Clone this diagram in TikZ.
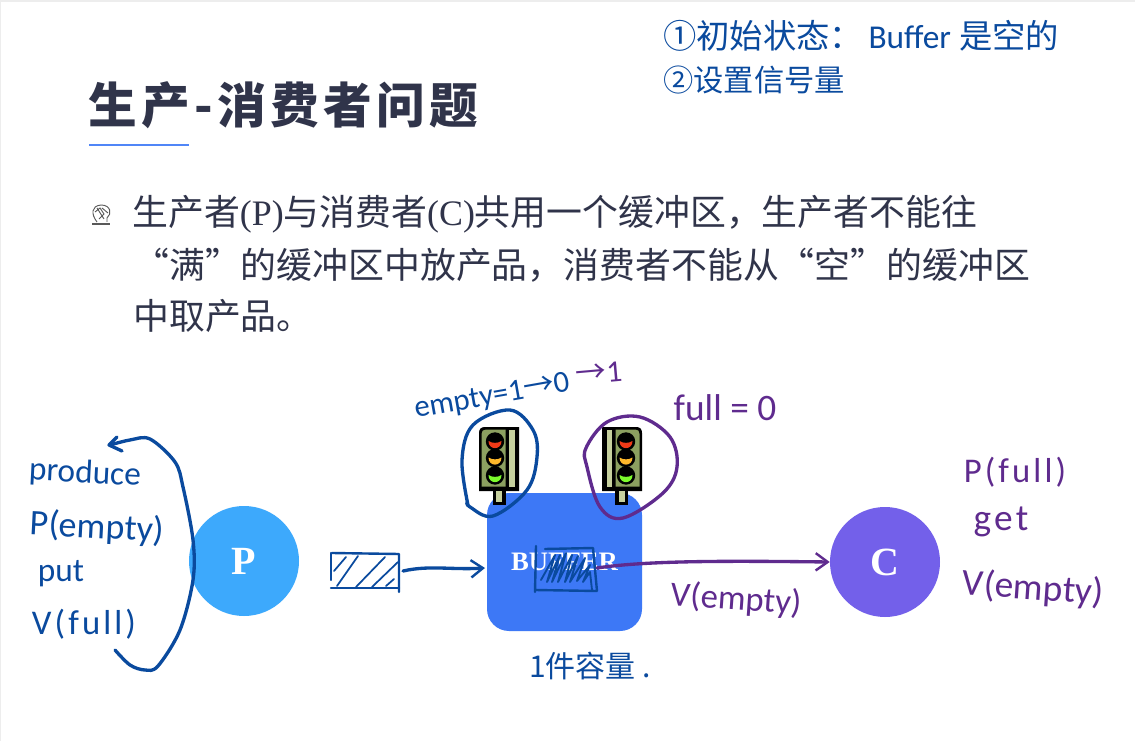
\documentclass[tikz,border=0pt]{standalone}
\usepackage{fontspec}
\usetikzlibrary{arrows.meta}
\setmainfont{Liberation Serif}
\newfontfamily\cjk{Noto Sans CJK SC}
\newfontfamily\cjktitle[LetterSpace=9]{Noto Sans CJK SC}
\newfontfamily\hand{Carlito}
\newfontfamily\handwide[LetterSpace=9]{Carlito}
\definecolor{inkblue}{HTML}{0A4A9E}
\definecolor{inkpurple}{HTML}{5F2B8E}
\definecolor{bodytext}{HTML}{30344A}
\definecolor{bufblue}{HTML}{3D78F6}
\definecolor{pblue}{HTML}{3DA9FC}
\definecolor{cpurple}{HTML}{7360EA}
\definecolor{olive}{HTML}{8CA060}
\definecolor{pale}{HTML}{C6D09E}
\definecolor{lampred}{HTML}{F03A17}
\definecolor{lamporange}{HTML}{FFB92B}
\definecolor{lampgreen}{HTML}{7CFC2C}
\tikzset{
  x=0.75pt,y=-0.75pt,
  bodyline/.style={anchor=west,inner sep=0,text=bodytext,font=\fontsize{26.9}{30}\selectfont\cjk},
  handb/.style={inner sep=0,text=inkblue},
  handp/.style={inner sep=0,text=inkpurple},
  cjkb/.style={inner sep=0,anchor=west,text=inkblue},
  inkb/.style={draw=inkblue,line width=2.5pt,line cap=round,line join=round},
  inkp/.style={draw=inkpurple,line width=2.5pt,line cap=round,line join=round},
  hatch/.style={draw=inkblue,line width=1.5pt,line cap=round,line join=round},
  barb/.style={-{Straight Barb[length=9pt,width=13pt,line width=1.8pt]}},
  round disc/.style={circle,minimum size=82.5pt,inner sep=0,text=white,font=\fontsize{30}{32}\selectfont\bfseries},
  tlight/.pic={
    \fill[black] (0,64) -- (0,6) .. controls (0,2) and (2,0) .. (6,0) -- (40,0) -- (40,64) -- cycle;
    \fill[olive] (2.5,59.5) -- (2.5,7) .. controls (2.5,4) and (4,2.5) .. (7,2.5) -- (26.5,2.5) -- (26.5,59.5) -- cycle;
    \fill[pale] (30,2.5) rectangle (35.5,59.5);
    \fill[black] (14.3,64) rectangle (26.7,78);
    \fill[pale] (17.3,64) rectangle (23.3,75);
    \foreach \yy/\cc in {14.5/lampred,31/lamporange,48.5/lampgreen}{
      \fill[black] (16,\yy) circle[radius=9.2];
      \fill[\cc] (9.5,{\yy-0.5}) .. controls (9.5,{\yy+9}) and (22.5,{\yy+9}) .. (22.5,{\yy-0.5}) .. controls (19,{\yy+2}) and (13,{\yy+2}) .. (9.5,{\yy-0.5}) -- cycle;
    }
  }
}
\begin{document}
\begin{tikzpicture}
\useasboundingbox (0,0) rectangle (1135,741);
\fill[white] (0,0) rectangle (1135,741);
\fill[black!7] (0,0) rectangle (1135,2);
\fill[black!7] (0,0) rectangle (1,741);

% title
\node[anchor=west,inner sep=0,text=bodytext,font=\fontsize{36.5}{40}\selectfont\cjktitle\bfseries] (title) at (88,105) {生产-消费者问题};
\fill[bufblue!90!white] (89,144) rectangle (189,146);

% bullet icon
\begin{scope}[draw=black!65,line width=0.7pt]
  \draw (97,222) .. controls (91,214) and (91,206) .. (101,205) .. controls (111,205) and (112,214) .. (107,218) -- (107,222);
  \draw (95,212) -- (100,208) -- (104,214) -- (99,219) (102,208) -- (108,213) (97,208) -- (104,219);
  \draw[line width=1pt] (92,224) -- (110,224);
\end{scope}

% body text
\node[bodyline] (l1) at (132,214) {生产者{\rmfamily (P)}与消费者{\rmfamily (C)}共用一个缓冲区，生产者不能往};
\node[bodyline] (l2) at (133,265) {“满”的缓冲区中放产品，消费者不能从“空”的缓冲区};
\node[bodyline] (l3) at (133,316) {中取产品。};

% handwritten notes
\node[cjkb,font=\fontsize{25}{28}\selectfont\cjk] (n1) at (663,36) {①初始状态：\hspace{4pt}{\hand Buffer}\hspace{6pt}是空的};
\node[cjkb,font=\fontsize{22.7}{26}\selectfont\cjk] (n2) at (663,80) {②设置信号量};

% buffer and processes
\node[round disc,fill=pblue] (P) at (244,561) {P};
\node[round disc,fill=cpurple] (C) at (885,562) {C};
\node[fill=bufblue,rounded corners=16.5pt,minimum width=116.25pt,minimum height=103.5pt,inner sep=0,text=white,font=\fontsize{20}{24}\selectfont\bfseries] (buffer) at (564.5,562) {BUFFER};

% traffic lights
\pic at (479,427) {tlight};
\pic[xscale=-1] at (642,427) {tlight};

% loops round the lights
\draw[inkb] plot[smooth,tension=0.6] coordinates {(468,505) (462,460) (473,425) (510,410) (533,430) (537,457) (527,490) (493,516) (470,507) (467,502)};
\draw[inkp] plot[smooth cycle,tension=0.6] coordinates {(586,448) (607,422) (640,417) (670,437) (677,467) (663,493) (623,518) (600,507) (587,467)};

% produce loop
\draw[inkb] plot[smooth,tension=0.55] coordinates {(115,650) (130,665) (145,670) (158,666) (180,630) (193,580) (193,540) (183,487) (175,462) (150,439) (130,440) (110,445)};
\draw[inkb] (117,437) -- (109,445) -- (122,451);

% item outside the buffer
\node[minimum width=51pt,minimum height=27pt,inner sep=0] (item) at (365,571) {};
\draw[inkb,line width=1.8pt] (332,553) -- (399,554) -- (399,592);
\draw[inkb,line width=1.8pt] (331,553) -- (331,580) (331,588) -- (399,588);
\foreach \a/\b/\c/\d in {334/571/346/557,337/586/358/556,356/587/385/557,372/587/398/562,386/586/394/579}{
  \draw[hatch,line width=1.3pt] (\a,\b) -- (\c,\d);
}
\coordinate (inStart) at (403,571);
\coordinate (inEnd) at (485,568);
\draw[inkb,barb] (inStart) .. controls (430,565) and (450,570) .. (inEnd);

% item inside the buffer
\draw[inkb,line width=1.8pt] (536,546) -- (535,592) (535,590) -- (597,591) (597,591) -- (593,548) -- (545,549);
\draw[hatch,line width=1.4pt] (541,580) -- (555,555) -- (547,582) -- (560,555) -- (552,582) -- (566,553) -- (558,582) -- (572,555) -- (565,582) -- (578,556) -- (570,582) -- (585,558) -- (577,581) -- (590,565) -- (583,582) -- (590,572) -- (592,590);

% arrow to the consumer
\coordinate (outStart) at (597,568);
\draw[inkp,barb] (outStart) .. controls (650,560) and (740,561) .. (C.west);

% handwritten labels
\node[handb,rotate=-3,font=\fontsize{25}{28}\selectfont\hand] (produce) at (85,474) {produce};
\node[handb,rotate=-3,font=\fontsize{27}{28}\selectfont\hand] (pempty) at (97,528) {P(empty)};
\node[handb,font=\fontsize{25}{28}\selectfont\hand] (put) at (61,574) {put};
\node[handb,font=\fontsize{26}{32}\selectfont\handwide] (vfull) at (84,624) {V(full)};
\node[handp,font=\fontsize{26}{32}\selectfont\handwide] (pfull) at (1015,472) {P(full)};
\node[handp,font=\fontsize{28}{34}\selectfont\handwide] (get) at (1001,522) {get};
\node[handp,rotate=-4,font=\fontsize{28}{30}\selectfont\hand] (vempty) at (1033,589) {V(empty)};
\node[handp,rotate=-4,font=\fontsize{26}{28}\selectfont\hand] (vempty2) at (736,600) {V(empty)};
\node[handb,rotate=10,font=\fontsize{23}{26}\selectfont\hand] (emptylab) at (492,397) {empty=1{\cjk →}0};
\node[handp,rotate=5,font=\fontsize{23}{26}\selectfont\hand] (emptyrest) at (599,373) {{\cjk →}1};
\node[handp,font=\fontsize{28}{30}\selectfont\hand] (fulllab) at (725,408) {full = 0};
\node[inner sep=0,text=inkblue,font=\fontsize{22.5}{26}\selectfont\cjk] (cap) at (590,666) {1件容量 .};
\end{tikzpicture}
\end{document}
